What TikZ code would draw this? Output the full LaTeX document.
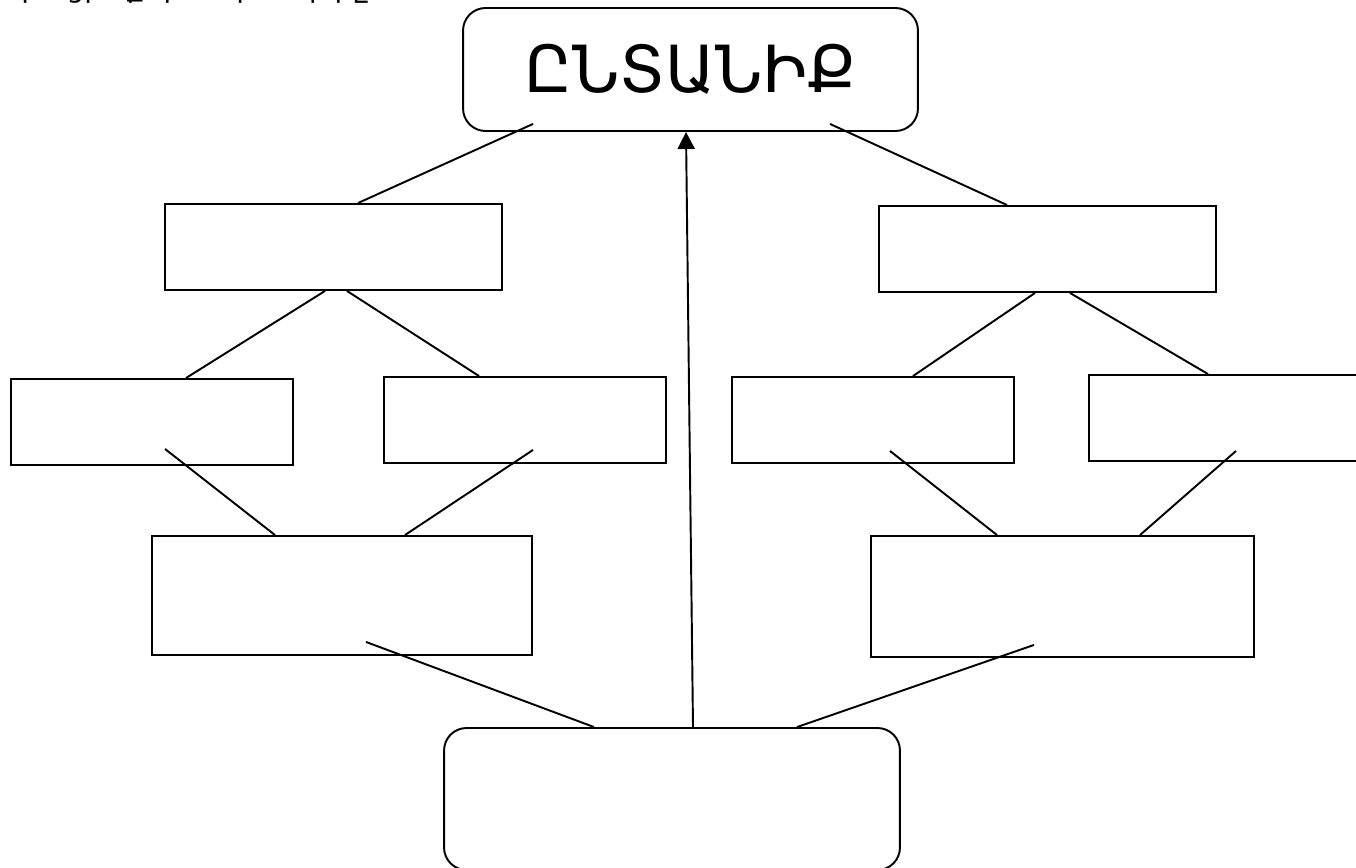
\documentclass[tikz,border=0pt]{standalone}
\usepackage{fontspec}
\newfontfamily\armfont{DejaVu Sans}
\usetikzlibrary{arrows.meta,calc}
\tikzset{
  box/.style={draw,line width=1.1pt,inner sep=0pt},
  rbox/.style={box,rounded corners=0.45cm},
  link/.style={line width=1.1pt},
}
\begin{document}
\begin{tikzpicture}[x=0.02cm,y=-0.02cm]
\useasboundingbox (0,0) rectangle (1356,868);
\begin{scope}
  \clip (0,0) rectangle (1356,868);
  \node[anchor=base west,inner sep=0pt] (hint) at (6,-2) {\armfont\fontsize{16}{19}\selectfont Լրացրե՛ք գծապատկերը};
\end{scope}
\node[rbox,minimum width=9.1cm,minimum height=2.46cm] (fam) at (690.5,69.5) {\armfont\fontsize{37}{40}\selectfont ԸՆՏԱՆԻՔ};
\node[box,minimum width=6.74cm,minimum height=1.72cm] (l2a) at (333.5,247) {};
\node[box,minimum width=6.74cm,minimum height=1.72cm] (l2b) at (1047.5,249) {};
\node[box,minimum width=5.64cm,minimum height=1.72cm] (l3a) at (152,422) {};
\node[box,minimum width=5.64cm,minimum height=1.72cm] (l3b) at (525,420) {};
\node[box,minimum width=5.64cm,minimum height=1.72cm] (l3c) at (873,420) {};
\node[box,minimum width=5.64cm,minimum height=1.72cm] (l3d) at (1230,418) {};
\node[box,minimum width=7.6cm,minimum height=2.38cm] (l4a) at (342,595.5) {};
\node[box,minimum width=7.66cm,minimum height=2.42cm] (l4b) at (1062.5,596.5) {};
\node[rbox,minimum width=9.12cm,minimum height=2.84cm] (bot) at (672,799) {};

\draw[link] ($(fam.south)+(-157.5,-8)$) -- ($(l2a.north)+(24.5,0)$);
\draw[link] ($(fam.south)+(139.5,-8)$) -- ($(l2b.north)+(-40.5,0)$);
\draw[link] ($(l2a.south)+(-8.5,0)$) -- ($(l3a.north)+(34,0)$);
\draw[link] ($(l2a.south)+(13.5,0)$) -- ($(l3b.north)+(-46,0)$);
\draw[link] ($(l2b.south)+(-12.5,0)$) -- ($(l3c.north)+(40,0)$);
\draw[link] ($(l2b.south)+(22.5,0)$) -- ($(l3d.north)+(-22,0)$);
\draw[link] ($(l3a.south)+(13,-17)$) -- ($(l4a.north)+(-67,0)$);
\draw[link] ($(l3b.south)+(8,-14)$) -- ($(l4a.north)+(63,0)$);
\draw[link] ($(l3c.south)+(17,-13)$) -- ($(l4b.north)+(-65.5,0)$);
\draw[link] ($(l3d.south)+(6,-11)$) -- ($(l4b.north)+(77.5,0)$);
\draw[link] ($(l4a.south)+(24,-14)$) -- ($(bot.north)+(-78,0)$);
\draw[link] ($(l4b.south)+(-28.5,-13)$) -- ($(bot.north)+(125,0)$);
\draw[link,-{Triangle[width=0.34cm,length=0.34cm]}] ($(bot.north)+(21,0)$) -- ($(fam.south)+(-4.5,0)$);
\end{tikzpicture}
\end{document}
